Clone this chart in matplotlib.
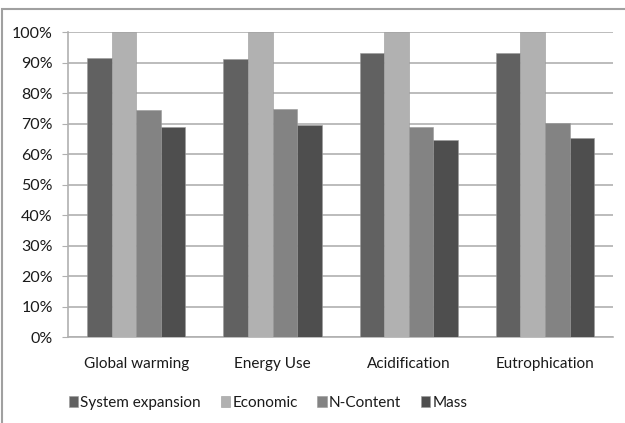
import numpy as np
import matplotlib.pyplot as plt
from matplotlib.patches import Rectangle
from matplotlib.ticker import PercentFormatter

plt.rcParams['font.family'] = ['Lato', 'DejaVu Sans']

categories = ["Global warming", "Energy Use", "Acidification", "Eutrophication"]
series_names = ["System expansion", "Economic", "N-Content", "Mass"]
system_expansion = [91.6, 91.2, 93.3, 93.3]
economic = [100, 100, 100, 100]
n_content = [74.6, 74.9, 69.0, 70.2]
mass = [69.0, 69.6, 64.6, 65.3]

colors = ["#616161", "#b1b1b1", "#838383", "#4e4e4e"]
all_series = [system_expansion, economic, n_content, mass]

fig = plt.figure(figsize=(6.25, 4.23), dpi=100)
fig.patches.append(Rectangle((0.003, -0.1), 1.1, 1.079, transform=fig.transFigure,
                             fill=False, edgecolor="#a0a0a0", linewidth=1.5))
ax = fig.add_axes([0.109, 0.203, 0.872, 0.721])

x = np.arange(len(categories))
w = 0.18
for i, (vals, c) in enumerate(zip(all_series, colors)):
    ax.bar(x + (i - 1.5) * w, vals, w, color=c, label=series_names[i],
           edgecolor="#9a9a9a", linewidth=0.4, zorder=3)

ax.set_xlim(-0.5, len(categories) - 0.5)
ax.set_ylim(0, 100)
ax.set_yticks(np.arange(0, 101, 10))
ax.yaxis.set_major_formatter(PercentFormatter(decimals=0))
ax.grid(axis="y", color="#b0b0b0", linewidth=1.2, zorder=0)
ax.set_xticks(x)
ax.set_xticklabels(categories)
for s in ["top", "right"]:
    ax.spines[s].set_visible(False)
for s in ["left", "bottom"]:
    ax.spines[s].set_color("#b0b0b0")
    ax.spines[s].set_linewidth(1.2)
ax.tick_params(axis="x", length=0, labelsize=11, pad=14, colors="#1a1a1a")
ax.tick_params(axis="y", length=4, color="#b0b0b0", labelsize=11.5, pad=7, colors="#1a1a1a")

fig.legend(loc="center", bbox_to_anchor=(0.429, 0.047), ncol=4, frameon=False,
           fontsize=11, handlelength=0.6, handleheight=0.7, handletextpad=0.15,
           columnspacing=1.3, labelcolor="#1a1a1a")

fig.savefig("out.png", dpi=100)
